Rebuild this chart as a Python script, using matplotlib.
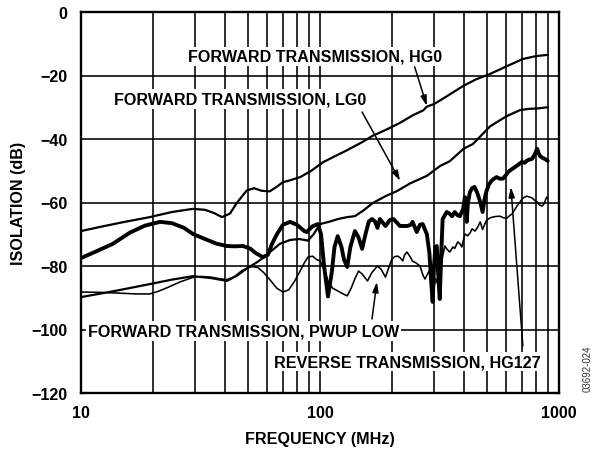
import matplotlib
matplotlib.use("Agg")
import matplotlib.pyplot as plt
from matplotlib.ticker import FixedLocator, NullFormatter

plt.rcParams['font.family'] = ['Liberation Sans', 'DejaVu Sans']
plt.rcParams['font.weight'] = 'bold'

# ---------------- data ----------------
hg0_f = [10, 12, 15, 19.4, 24, 29.4, 33, 36, 38.9, 42, 45, 49.4, 53, 57, 61.6, 66, 70, 75,
         82.6, 92, 103, 115, 130, 150, 166, 190, 215, 245, 270, 280, 300, 340, 397, 450,
         515, 600, 706, 800, 897]
hg0_db = [-69, -67.7, -66.2, -64.6, -63, -62, -62.3, -63.3, -64.6, -63.5, -60, -56.2, -55.5,
          -56.3, -56.5, -55, -53.6, -53, -52, -50, -47.3, -45.5, -43.5, -41, -39, -37, -35,
          -32.5, -31, -29.8, -29, -26.5, -23.3, -21.2, -19.5, -17.2, -14.8, -13.9, -13.5]

lg0_f = [10, 14, 19.4, 24, 29.4, 35, 40.8, 45, 50, 54, 57.7, 62, 68, 75, 82, 89, 94, 100,
         110, 119, 130, 140, 152, 166, 188, 210, 238, 280, 318, 349, 400, 436, 515, 604,
         687, 750, 810, 897]
lg0_db = [-89.8, -87.8, -85.7, -84.3, -83.2, -83.8, -84.7, -83, -80.5, -79, -77.5, -75.5,
          -73, -71.8, -71.5, -72, -70, -66.8, -66, -65.2, -64.6, -64.3, -62.5, -60.2, -58,
          -56.4, -54, -51.6, -48.5, -47, -43, -41.6, -36, -32.8, -30.9, -30.5, -30.4, -30]

pwup_f = [10, 12, 15, 17, 19.4, 21, 23, 26, 29.4, 32, 35, 38, 40.8, 44, 47, 50, 52, 55, 58,
          62, 66, 70, 74, 78, 82, 86, 89, 93, 97, 100, 104, 108, 113, 119, 125, 130, 135,
          140, 145, 150, 158, 165, 174, 180, 188, 195, 200, 206, 212, 217, 222, 226, 231,
          238, 244, 252, 262, 270, 275, 282, 289, 293, 297, 301, 305, 312, 317, 322, 326,
          333, 339, 349, 360, 366, 377, 385, 392, 404, 415, 425, 433, 445, 455, 468, 479,
          488, 496, 510, 526, 545, 565, 585, 604, 620, 636, 650, 667, 685, 700, 718, 735,
          752, 770, 790, 810, 830, 850, 865, 880, 889, 897]
pwup_db = [-88.2, -88.3, -88.6, -88.8, -88.8, -88, -86.8, -85, -83.6, -83.3, -83.5, -84,
           -84.3, -83.3, -81.5, -80.5, -80.2, -80.5, -82, -84.5, -87, -88.2, -87.5, -85, -82,
           -79, -77.2, -76.9, -78, -78.4, -81, -84.7, -87, -87.9, -88.8, -89.4, -87, -84,
           -81.6, -82.5, -84.7, -82, -80, -81, -83.5, -80, -77.8, -77, -76.9, -77.5, -78.4,
           -76.5, -75.6, -77, -78.5, -79, -80, -83, -84.1, -82.5, -81, -85, -89.4, -86,
           -84, -86, -90.4, -80, -76.9, -73.7, -74.6, -75.6, -74, -74.5, -72.4, -73, -74,
           -69.9, -70.5, -69.5, -68.3, -69, -68, -66.1, -68.5, -67, -65.8, -65, -64.6, -64.4,
           -64.3, -64.8, -65, -64.2, -63.6, -62.5, -61.1, -60, -58.9, -58.3, -58, -58.3,
           -58.5, -59.3, -59.8, -60.8, -61.1, -60.5, -59, -58.3, -58.6]

rev_f = [10, 11.5, 13.6, 16, 18.5, 21.4, 24, 27, 29.4, 33, 37, 40.8, 44, 47.6, 51, 54, 57.7,
         60.5, 63, 66, 70, 75, 80, 86, 88, 93, 98, 101, 104, 108, 112, 115, 118.6, 123, 126,
         130, 134, 140, 145, 150, 155, 160, 165, 170, 174, 178, 188, 196, 203, 216, 232, 240,
         244, 254, 262, 269, 280, 287, 292, 296, 300, 304, 308, 312, 317, 322, 326, 339, 348,
         357, 366, 376, 385, 397, 404, 408, 411, 416, 424, 433, 443, 455, 468, 479, 488, 496,
         508, 521, 535, 548, 565, 582, 598, 612, 635, 655, 678, 700, 718, 735, 750, 770, 790,
         810, 822, 834, 855, 874, 897]
rev_db = [-77.5, -75.5, -73, -69.5, -67.3, -66.1, -66.5, -68, -69.9, -71.5, -73, -73.7, -73.8,
          -73.7, -74.5, -76, -77.2, -76.5, -73, -70, -67, -66.1, -67, -69, -69.3, -67.5, -66.8,
          -70, -80, -89.6, -82, -74, -70.6, -74, -78, -80.3, -74, -69, -71, -74.6, -70, -66,
          -65.2, -66, -68, -65.2, -67.4, -65.5, -65.2, -67.4, -67.4, -67, -66.1, -69.3, -67,
          -66.8, -70, -76, -85, -91.3, -80, -74, -73.7, -82, -90.4, -75, -65.2, -63, -63.5,
          -64.3, -63, -64, -64.3, -62, -58.3, -62, -66.1, -60, -56.7, -55.5, -55.1, -57, -59.8,
          -63, -59, -56.7, -54.5, -53.2, -52.5, -52, -52.5, -52.5, -51.5, -50.4, -49.5, -48.8,
          -48, -47.2, -47.5, -46.8, -46.5, -46.3, -45, -43.1, -44.5, -45.4, -46, -46.3, -46.9]

x_ticks = [10, 100, 1000]
x_ticklabels = ['10', '100', '1000']
y_ticks = [0, -20, -40, -60, -80, -100, -120]
y_ticklabels = ['0', '\u221220', '\u221240', '\u221260', '\u221280', '\u2212100', '\u2212120']

FS = 11.6

# ---------------- figure ----------------
fig = plt.figure(figsize=(5.94, 4.56), dpi=100)
ax = fig.add_axes([81/594, 1 - 394/456, (559 - 81)/594, (394 - 13)/456])
ax.set_xscale('log')
ax.set_xlim(10, 1000)
ax.set_ylim(-120, 0)

minor = [m * d for d in (10, 100) for m in range(2, 10)]
ax.xaxis.set_major_locator(FixedLocator(x_ticks))
ax.xaxis.set_minor_locator(FixedLocator(minor))
ax.xaxis.set_minor_formatter(NullFormatter())
ax.set_xticklabels(x_ticklabels)
ax.set_yticks(y_ticks)
ax.set_yticklabels(y_ticklabels)
ax.tick_params(which='both', length=0)
ax.tick_params(axis='y', pad=10, labelsize=FS)
ax.tick_params(axis='x', pad=9, labelsize=FS)
for lab in ax.get_xticklabels() + ax.get_yticklabels():
    lab.set_fontweight('bold')

ax.grid(True, which='both', axis='x', color='black', lw=1.15)
ax.grid(True, which='major', axis='y', color='black', lw=1.15)
ax.set_axisbelow(True)
for s in ax.spines.values():
    s.set_linewidth(1.7)
    s.set_color('black')

lkw = dict(color='black', solid_joinstyle='round', solid_capstyle='round')
ax.plot(hg0_f, hg0_db, lw=1.6, zorder=3, **lkw)
ax.plot(lg0_f, lg0_db, lw=1.6, zorder=3, **lkw)
ax.plot(pwup_f, pwup_db, lw=1.15, zorder=3, **lkw)
ax.plot(rev_f, rev_db, lw=2.8, zorder=4, **lkw)

bbox = dict(facecolor='white', edgecolor='none', pad=1.5)
tkw = dict(fontsize=FS, fontweight='bold', ha='center', va='center', bbox=bbox, zorder=6)
ax.text(95.3, -13.9, 'FORWARD TRANSMISSION, HG0', **tkw)
ax.text(46.3, -27.4, 'FORWARD TRANSMISSION, LG0', **tkw)
ax.text(47.9, -100.5, 'FORWARD TRANSMISSION, PWUP LOW', **tkw)
ax.text(231, -110.2, 'REVERSE TRANSMISSION, HG127', **tkw)

akw = dict(arrowstyle='-|>,head_length=0.6,head_width=0.18', color='black', lw=1.1,
           shrinkA=0, shrinkB=0)
ax.annotate('', xy=(280, -29.6), xytext=(249, -17.3), arrowprops=akw, zorder=7)
ax.annotate('', xy=(216.5, -53.2), xytext=(150, -31.5), arrowprops=akw, zorder=7)
ax.annotate('', xy=(173, -85), xytext=(165, -96.7), arrowprops=akw, zorder=7)
ax.annotate('', xy=(629, -55.1), xytext=(706, -105.2), arrowprops=akw, zorder=7)

fig.text(320/594, 1 - 440/456, 'FREQUENCY (MHz)', fontsize=FS, fontweight='bold',
         ha='center', va='center')
fig.text(19/594, 1 - 203/456, 'ISOLATION (dB)', fontsize=FS, fontweight='bold',
         ha='center', va='center', rotation=90)
fig.text(588/594, 1 - 369/456, '03692-024', fontsize=7, fontweight='normal',
         ha='center', va='center', rotation=90, color='#333333')

fig.savefig('out.png', dpi=100)
